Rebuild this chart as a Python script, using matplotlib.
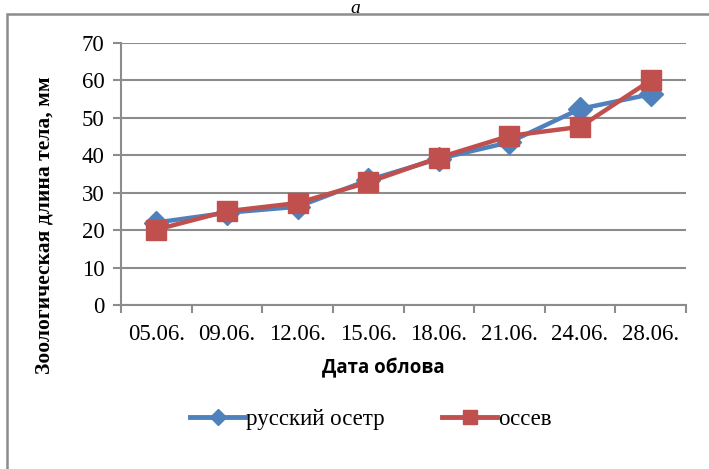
import matplotlib
matplotlib.use("Agg")
import matplotlib.pyplot as plt
from matplotlib.lines import Line2D
from matplotlib.patches import Rectangle

dates = ["05.06.", "09.06.", "12.06.", "15.06.", "18.06.", "21.06.", "24.06.", "28.06."]
russian_sturgeon = [22.0, 24.6, 26.2, 33.3, 39.0, 43.4, 52.3, 56.2]
osseus = [20.1, 25.0, 27.2, 32.7, 39.3, 45.1, 47.5, 59.9]
y_ticks = [0, 10, 20, 30, 40, 50, 60, 70]

W, H = 709, 469
fig = plt.figure(figsize=(W / 100, H / 100), dpi=100)
fig.patch.set_facecolor("white")

serif = ["Liberation Serif", "DejaVu Serif"]
grid_col = "#8c8c8c"
blue = "#4F81BD"
red = "#C0504D"

# outer chart frame (runs off the right and bottom edges)
fig.patches.append(Rectangle((7 / W, -0.05), 1.1, 1 - 14 / H + 0.05,
                             transform=fig.transFigure, fill=False,
                             edgecolor=grid_col, linewidth=1.8))
fig.text(355 / W, 1.0, "a", ha="center", va="top", style="italic",
         fontsize=14, family=serif)

ax = fig.add_axes([121 / W, 1 - 305 / H, (686 - 121) / W, (305 - 42.5) / H])
x = list(range(len(dates)))

ax.plot(x, russian_sturgeon, color=blue, lw=3.2, marker="D", markersize=12,
        solid_joinstyle="round", zorder=3)
ax.plot(x, osseus, color=red, lw=3.2, marker="s", markersize=14,
        solid_joinstyle="round", zorder=4)

ax.set_xlim(-0.5, len(dates) - 0.5)
ax.set_ylim(0, 70)
ax.set_yticks(y_ticks)
ax.set_yticklabels([str(v) for v in y_ticks], family=serif, fontsize=16.5)
ax.set_xticks(x)
ax.set_xticklabels(dates, family=serif, fontsize=16.5)
ax.set_xticks([i - 0.5 for i in range(len(dates) + 1)], minor=True)
ax.tick_params(axis="x", which="major", length=0, pad=14)
ax.tick_params(axis="x", which="minor", length=6, width=1.5, color=grid_col)
ax.tick_params(axis="y", length=6, width=1.5, color=grid_col, pad=6)

ax.grid(axis="y", color=grid_col, linewidth=1.5)
ax.set_axisbelow(True)
for s in ("top", "right"):
    ax.spines[s].set_visible(False)
for s in ("left", "bottom"):
    ax.spines[s].set_color(grid_col)
    ax.spines[s].set_linewidth(1.5)

fig.text(45 / W, 1 - 225 / H, "Зоологическая длина тела, мм", rotation=90,
         ha="center", va="center", family=serif, fontweight="bold", fontsize=15.5)
fig.text(383 / W, 1 - 368 / H, "Дата облова", ha="center", va="center",
         family=["Open Sans", "DejaVu Sans"], fontweight="bold", fontsize=13.5)

handles = [
    Line2D([], [], color=blue, lw=3.5, marker="D", markersize=8),
    Line2D([], [], color=red, lw=3.5, marker="s", markersize=10),
]
fig.legend(handles, ["русский осетр", "оссев"], loc="center",
           bbox_to_anchor=(371 / W, 1 - 419 / H), ncol=2, frameon=False,
           prop={"family": serif, "size": 16.5}, handlelength=2.4,
           handletextpad=0.05, columnspacing=2.5)

fig.savefig("out.png", dpi=100, facecolor="white")
